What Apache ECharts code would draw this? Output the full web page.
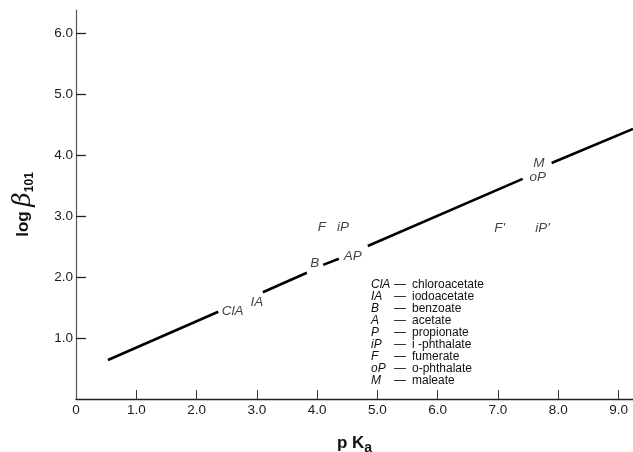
<!DOCTYPE html>
<head>
<meta charset="utf-8">
<title>log beta vs pKa</title>
<style>
html,body { height:100%; width:100%; margin:0; padding:0; background:#fff; }
</style>
</head>
<body>
<div id="main" style="width:633px;height:452px;"></div>
<script src="https://cdn.jsdelivr.net/npm/echarts@6/dist/echarts.min.js"></script>
<script type="text/javascript">
// line pieces (pKa, log beta), null = gap where a label sits
var lineData = [
  [0.53, 0.64], [2.36, 1.43], null,
  [3.10, 1.75], [3.83, 2.07], null,
  [4.10, 2.20], [4.36, 2.30], null,
  [4.84, 2.51], [7.41, 3.61], null,
  [7.89, 3.87], [9.24, 4.43]
];
// point labels on the chart
var pointLabels = [
  [2.60, 1.44, 'ClA'],
  [3.00, 1.59, 'IA'],
  [3.96, 2.23, 'B'],
  [4.59, 2.34, 'AP'],
  [4.08, 2.82, 'F'],
  [4.43, 2.82, 'iP'],
  [7.03, 2.80, "F'"],
  [7.74, 2.80, "iP'"],
  [7.68, 3.87, 'M'],
  [7.66, 3.64, 'oP']
];
var xTicks = [1, 2, 3, 4, 5, 6, 7, 8, 9];
var xLabels = [0, 1, 2, 3, 4, 5, 6, 7, 8, 9];
var yTicks = [1, 2, 3, 4, 5, 6];
var keyAbbr = ['ClA', 'IA', 'B', 'A', 'P', 'iP', 'F', 'oP', 'M'];
var keyName = ['chloroacetate', 'iodoacetate', 'benzoate', 'acetate', 'propionate',
               'i -phthalate', 'fumerate', 'o-phthalate', 'maleate'];

var myChart = echarts.init(document.getElementById('main'));
var font = 'Liberation Sans';

var options = {
  backgroundColor: '#fff',
  animation: false,
  grid: { left: 76, right: 0, top: 10, bottom: 53, outerBoundsMode: 'none' },
  xAxis: {
    type: 'value', min: 0, max: 9.24,
    name: '{p|p K}{s|a}',
    nameLocation: 'middle', nameGap: 32,
    nameTextStyle: {
      rich: {
        p: { fontFamily: font, fontSize: 17, fontWeight: 'bold', color: '#111' },
        s: { fontFamily: font, fontSize: 14, fontWeight: 'bold', color: '#111', verticalAlign: 'bottom', padding: [10, 0, 0, 0] }
      }
    },
    axisLine: { show: true, lineStyle: { color: '#222', width: 1.3 } },
    axisTick: { show: true, inside: true, length: 9, customValues: xTicks, lineStyle: { color: '#333' } },
    axisLabel: {
      customValues: xLabels, margin: 4, fontFamily: font, fontSize: 13.5, color: '#1a1a1a',
      formatter: function (v) { return v === 0 ? '0' : v.toFixed(1); }
    },
    splitLine: { show: false }
  },
  yAxis: {
    type: 'value', min: 0, max: 6.38,
    name: '{l|log }{b|β}{s|101}',
    nameLocation: 'middle', nameRotate: 90, nameGap: 40,
    nameTextStyle: {
      rich: {
        l: { fontFamily: font, fontSize: 17, fontWeight: 'bold', color: '#111' },
        b: { fontFamily: 'DejaVu Serif', fontSize: 25, fontStyle: 'italic', color: '#111' },
        s: { fontFamily: font, fontSize: 12, fontWeight: 'bold', color: '#111', verticalAlign: 'bottom', padding: [8, 0, 0, 0] }
      }
    },
    axisLine: { show: true, lineStyle: { color: '#555', width: 1.2 } },
    axisTick: { show: true, inside: true, length: 10, customValues: yTicks, lineStyle: { color: '#222', width: 1.3 } },
    axisLabel: {
      customValues: yTicks, margin: 3, fontFamily: font, fontSize: 13.5, color: '#1a1a1a',
      formatter: function (v) { return v.toFixed(1); }
    },
    splitLine: { show: false }
  },
  series: [
    {
      type: 'line',
      data: lineData,
      connectNulls: false,
      showSymbol: false,
      lineStyle: { color: '#000', width: 2.6 }
    },
    {
      type: 'scatter',
      symbolSize: 0,
      data: pointLabels,
      label: {
        show: true, position: 'inside',
        fontFamily: font, fontSize: 13.5, fontStyle: 'italic', color: '#111',
        formatter: function (p) { return p.value[2]; }
      }
    }
  ],
  graphic: [
    {
      type: 'text', left: 371, top: 279,
      style: { text: keyAbbr.join('\n'), font: 'italic 12px ' + font, lineHeight: 12, fill: '#111' }
    },
    {
      type: 'text', left: 394, top: 279,
      style: { text: keyAbbr.map(function () { return '—'; }).join('\n'), font: '12px ' + font, lineHeight: 12, fill: '#111' }
    },
    {
      type: 'text', left: 412, top: 279,
      style: { text: keyName.join('\n'), font: '12px ' + font, lineHeight: 12, fill: '#111' }
    }
  ]
};
myChart.setOption(options);
</script>
</body>
